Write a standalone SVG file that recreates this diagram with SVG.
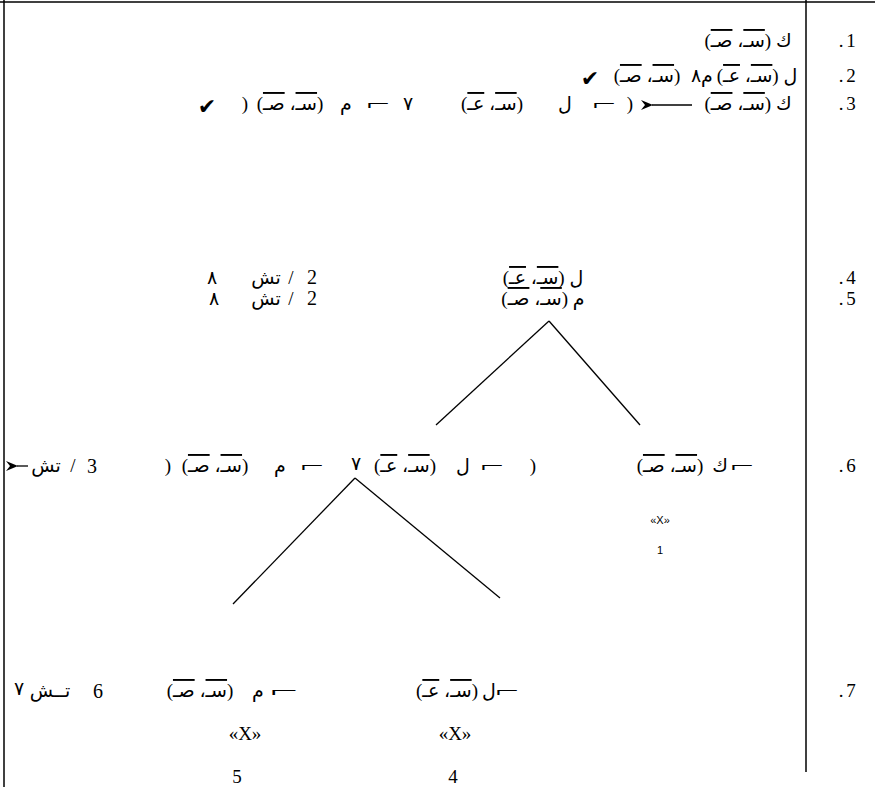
<svg xmlns="http://www.w3.org/2000/svg" width="875" height="787" viewBox="0 0 875 787">
<style>
.t{font-family:"Liberation Serif","DejaVu Sans",serif;font-size:19px;fill:#000}
.n{font-family:"Liberation Serif",serif;font-size:19px;fill:#000}
.big{font-family:"Liberation Serif",serif;font-size:20px;fill:#000}
.sm{font-family:"Liberation Sans",sans-serif;font-size:11px;fill:#000}
.ob{text-decoration:overline}
.ck{font-family:"DejaVu Sans",sans-serif;font-size:22px;fill:#000}
.ln{stroke:#000;stroke-width:1.3;fill:none}
.bd{stroke:#000;stroke-width:1.5;fill:none}
</style>
<defs>
<marker id="ah" viewBox="0 0 12 10" refX="1" refY="5" markerWidth="12" markerHeight="10" markerUnits="userSpaceOnUse" orient="auto-start-reverse">
<path d="M0,5 L12,0 L8,5 L12,10 Z" fill="#000"/>
</marker>
</defs>
<g id="frame">
<line class="bd" x1="0" y1="2" x2="875" y2="2"/>
<line class="bd" x1="806" y1="0" x2="806" y2="772"/>
<line class="bd" x1="4" y1="0" x2="4" y2="787"/>
</g>
<g id="row-numbers">
<text class="n" x="841" y="47" text-anchor="middle">.</text><text class="n" x="851" y="47" text-anchor="middle">1</text>
<text class="n" x="841" y="82" text-anchor="middle">.</text><text class="n" x="851" y="82" text-anchor="middle">2</text>
<text class="n" x="841" y="110" text-anchor="middle">.</text><text class="n" x="851" y="110" text-anchor="middle">3</text>
<text class="n" x="841" y="284" text-anchor="middle">.</text><text class="n" x="851" y="284" text-anchor="middle">4</text>
<text class="n" x="841" y="305" text-anchor="middle">.</text><text class="n" x="851" y="305" text-anchor="middle">5</text>
<text class="n" x="841" y="472" text-anchor="middle">.</text><text class="n" x="851" y="472" text-anchor="middle">6</text>
<text class="n" x="841" y="697" text-anchor="middle">.</text><text class="n" x="851" y="697" text-anchor="middle">7</text>
</g>
<g id="row1">
<text class="t" x="748" y="47" text-anchor="middle" direction="rtl">ك (<tspan class="ob">سـ</tspan>، <tspan class="ob">صـ</tspan>)</text>
</g>
<g id="row2">
<text class="t" x="757" y="82" text-anchor="middle" direction="rtl">ل (<tspan class="ob">سـ</tspan>، <tspan class="ob">عـ</tspan>)</text>
<text class="t" x="707" y="82" text-anchor="middle" direction="rtl">م</text>
<text class="t" x="696" y="82" text-anchor="middle" font-size="12">٨</text>
<text class="t" x="647" y="82" text-anchor="middle" direction="rtl">(<tspan class="ob">سـ</tspan>، <tspan class="ob">صـ</tspan>)</text>
<text class="ck" x="590" y="86" text-anchor="middle">✔</text>
</g>
<g id="row3">
<text class="t" x="748" y="110" text-anchor="middle" direction="rtl">ك (<tspan class="ob">سـ</tspan>، <tspan class="ob">صـ</tspan>)</text>
<text class="t" x="630" y="110" text-anchor="middle" direction="rtl">(</text>
<text class="t" x="604" y="110" text-anchor="middle" transform="translate(604 0) scale(2.2 1) translate(-604 0)">⌐</text>
<text class="t" x="565" y="110" text-anchor="middle" direction="rtl">ل</text>
<text class="t" x="492" y="110" text-anchor="middle" direction="rtl">(<tspan class="ob">سـ</tspan>، <tspan class="ob">عـ</tspan>)</text>
<text class="t" x="408" y="110" text-anchor="middle" font-size="12">٧</text>
<text class="t" x="378" y="110" text-anchor="middle" transform="translate(378 0) scale(2.2 1) translate(-378 0)">⌐</text>
<text class="t" x="346" y="110" text-anchor="middle" direction="rtl">م</text>
<text class="t" x="290" y="110" text-anchor="middle" direction="rtl">(<tspan class="ob">سـ</tspan>، <tspan class="ob">صـ</tspan>)</text>
<text class="t" x="245" y="110" text-anchor="middle" direction="rtl">(</text>
<text class="ck" x="207" y="114" text-anchor="middle">✔</text>
</g>
<g id="row4">
<text class="t" x="543" y="284" text-anchor="middle" direction="rtl">ل (<tspan class="ob">سـ</tspan>، <tspan class="ob">عـ</tspan>)</text>
<text class="big" x="312" y="284" text-anchor="middle">2</text>
<text class="t" x="291" y="284" text-anchor="middle">/</text>
<text class="t" x="266" y="284" text-anchor="middle" direction="rtl">تش</text>
<text class="t" x="212" y="284" text-anchor="middle" font-size="12">٨</text>
</g>
<g id="row5">
<text class="t" x="543" y="305" text-anchor="middle" direction="rtl">م (<tspan class="ob">سـ</tspan>، <tspan class="ob">صـ</tspan>)</text>
<text class="big" x="312" y="305" text-anchor="middle">2</text>
<text class="t" x="291" y="305" text-anchor="middle">/</text>
<text class="t" x="266" y="305" text-anchor="middle" direction="rtl">تش</text>
<text class="t" x="214" y="305" text-anchor="middle" font-size="12">٨</text>
</g>
<g id="row6">
<text class="big" x="92" y="473" text-anchor="middle">3</text>
<text class="t" x="73" y="472" text-anchor="middle">/</text>
<text class="t" x="46" y="472" text-anchor="middle" direction="rtl">تش</text>
<text class="t" x="168" y="472" text-anchor="middle" direction="rtl">(</text>
<text class="t" x="215" y="472" text-anchor="middle" direction="rtl">(<tspan class="ob">سـ</tspan>، <tspan class="ob">صـ</tspan>)</text>
<text class="t" x="280" y="472" text-anchor="middle" direction="rtl">م</text>
<text class="t" x="312" y="472" text-anchor="middle" transform="translate(312 0) scale(2.2 1) translate(-312 0)">⌐</text>
<text class="t" x="356" y="470" text-anchor="middle" font-size="12">٧</text>
<text class="t" x="405" y="472" text-anchor="middle" direction="rtl">(<tspan class="ob">سـ</tspan>، <tspan class="ob">عـ</tspan>)</text>
<text class="t" x="463" y="472" text-anchor="middle" direction="rtl">ل</text>
<text class="t" x="492" y="472" text-anchor="middle" transform="translate(492 0) scale(2.2 1) translate(-492 0)">⌐</text>
<text class="t" x="533" y="472" text-anchor="middle" direction="rtl">(</text>
<text class="t" x="670" y="472" text-anchor="middle" direction="rtl">(<tspan class="ob">سـ</tspan>، <tspan class="ob">صـ</tspan>)</text>
<text class="t" x="720" y="472" text-anchor="middle" direction="rtl">ك</text>
<text class="t" x="742" y="472" text-anchor="middle" transform="translate(742 0) scale(2.2 1) translate(-742 0)">⌐</text>
<text class="sm" x="660" y="524" text-anchor="middle">«X»</text>
<text class="sm" x="660" y="554" text-anchor="middle">1</text>
</g>
<g id="row7">
<text class="t" x="447" y="697" text-anchor="middle" direction="rtl">(<tspan class="ob">سـ</tspan>، <tspan class="ob">عـ</tspan>)</text>
<text class="t" x="489" y="697" text-anchor="middle" direction="rtl">ل</text>
<text class="t" x="507" y="697" text-anchor="middle" transform="translate(507 0) scale(2.2 1) translate(-507 0)">⌐</text>
<text class="t" x="19" y="695" text-anchor="middle" font-size="12">٧</text>
<text class="t" x="50" y="697" text-anchor="middle" direction="rtl">تــش</text>
<text class="big" x="98" y="698" text-anchor="middle">6</text>
<text class="t" x="200" y="697" text-anchor="middle" direction="rtl">(<tspan class="ob">سـ</tspan>، <tspan class="ob">صـ</tspan>)</text>
<text class="t" x="258" y="697" text-anchor="middle" direction="rtl">م</text>
<text class="t" x="284" y="697" text-anchor="middle" transform="translate(284 0) scale(2.6 1) translate(-284 0)">⌐</text>
<text class="n" x="245" y="740" text-anchor="middle">«X»</text>
<text class="n" x="455" y="740" text-anchor="middle">«X»</text>
<text class="n" x="237" y="783" text-anchor="middle">5</text>
<text class="n" x="453" y="783" text-anchor="middle">4</text>
</g>
<g id="connectors">
<line class="ln" x1="549" y1="321" x2="436" y2="425"/>
<line class="ln" x1="549" y1="321" x2="640" y2="425"/>
<line class="ln" x1="355" y1="478" x2="233" y2="604"/>
<line class="ln" x1="355" y1="478" x2="500" y2="598"/>
<line class="ln" x1="692" y1="105" x2="652" y2="105" marker-end="url(#ah)"/>
<line class="ln" x1="28" y1="466" x2="17" y2="466" marker-end="url(#ah)"/>
</g>
</svg>
